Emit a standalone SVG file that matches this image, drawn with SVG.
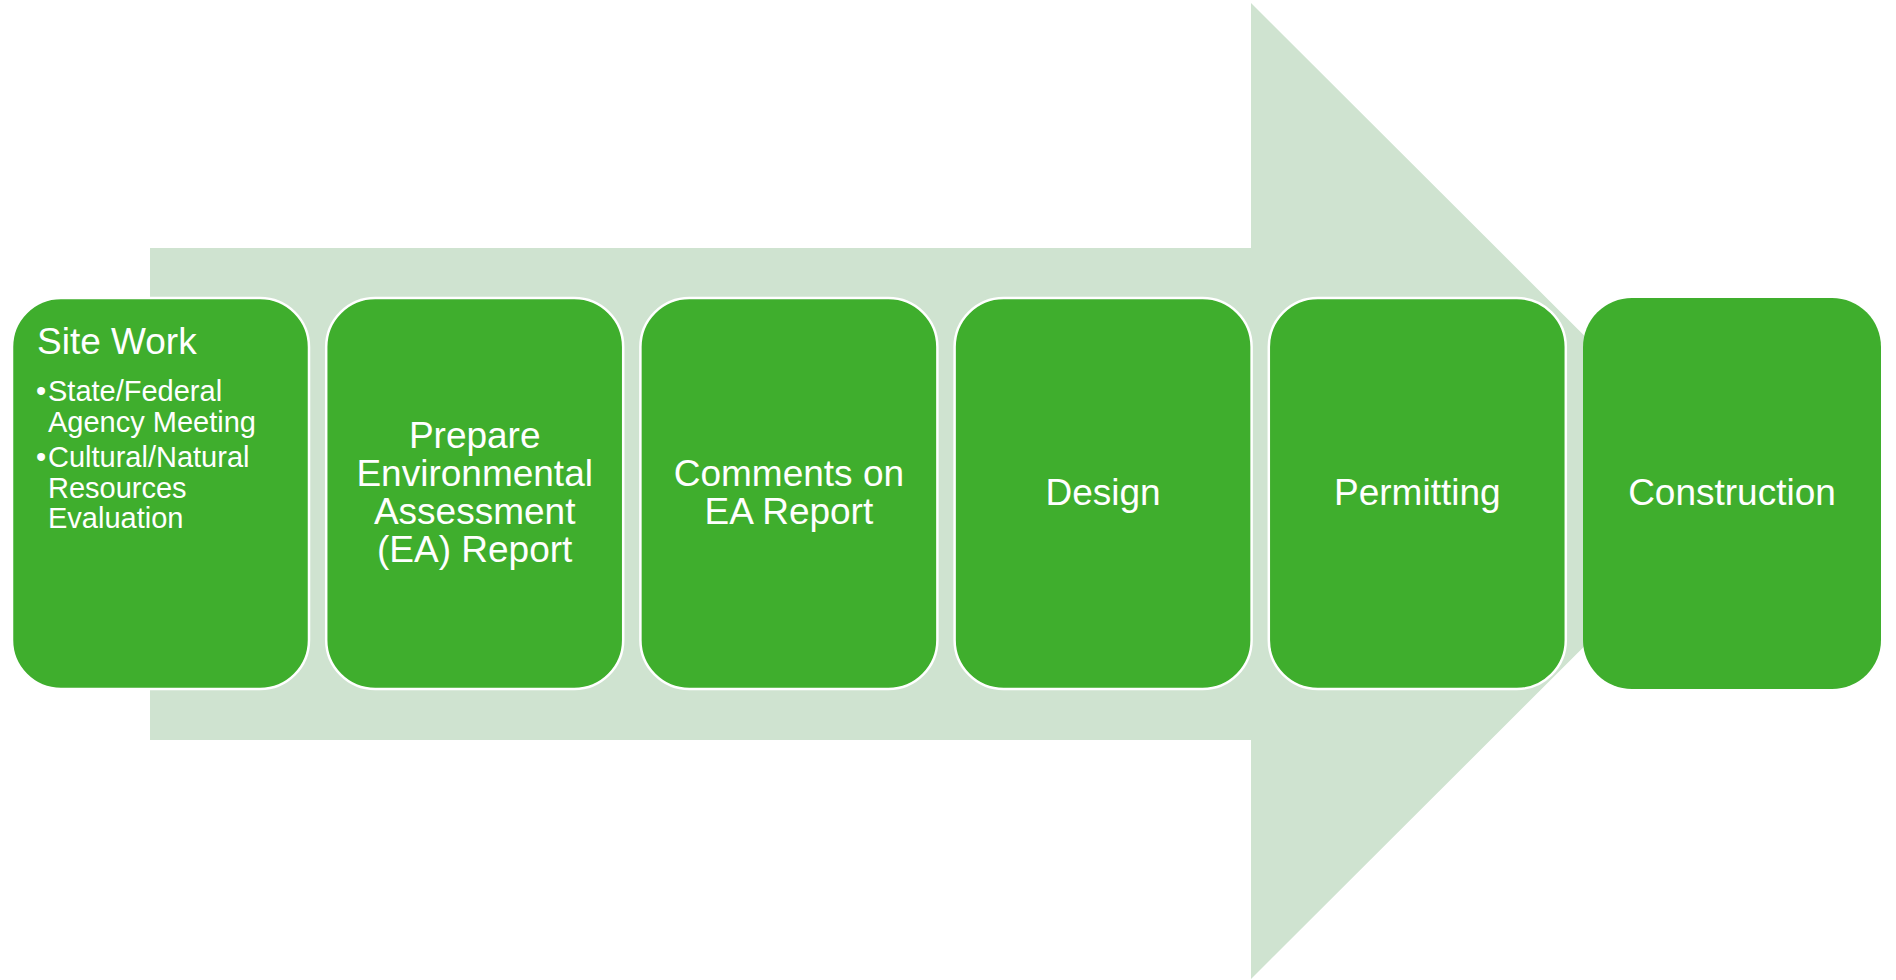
<svg xmlns="http://www.w3.org/2000/svg" width="1896" height="980" viewBox="0 0 1896 980">
<style>
.box{fill:#3FAE2D;stroke:#FFFFFF;stroke-width:2.5}
.t{font-family:"Liberation Sans",Arial,sans-serif;fill:#FFFFFF;font-size:37px;text-anchor:middle}
.b{font-family:"Liberation Sans",Arial,sans-serif;fill:#FFFFFF;font-size:29px}
</style>
<rect width="1896" height="980" fill="#FFFFFF"/>
<g id="connectors">
<polygon points="150,248 1251,248 1251,3 1740,491 1251,979 1251,740 150,740" fill="#CFE3D0"/>
</g>
<g id="node1">
<rect class="box" x="12" y="298" width="297" height="391" rx="49" ry="49"/>
<text class="t" x="37" y="354" text-anchor="start" style="text-anchor:start">Site Work</text>
<text class="b" x="36" y="401">•</text>
<text class="b" x="48" y="401">State/Federal</text>
<text class="b" x="48" y="432">Agency Meeting</text>
<text class="b" x="36" y="467">•</text>
<text class="b" x="48" y="467">Cultural/Natural</text>
<text class="b" x="48" y="498">Resources</text>
<text class="b" x="48" y="528">Evaluation</text>
</g>
<g id="node2">
<rect class="box" x="326.2" y="298" width="297" height="391" rx="49" ry="49"/>
<text class="t" x="474.7" y="448">Prepare</text>
<text class="t" x="474.7" y="486">Environmental</text>
<text class="t" x="474.7" y="524">Assessment</text>
<text class="t" x="474.7" y="562">(EA) Report</text>
</g>
<g id="node3">
<rect class="box" x="640.4" y="298" width="297" height="391" rx="49" ry="49"/>
<text class="t" x="788.9" y="486">Comments on</text>
<text class="t" x="788.9" y="524">EA Report</text>
</g>
<g id="node4">
<rect class="box" x="954.6" y="298" width="297" height="391" rx="49" ry="49"/>
<text class="t" x="1103.1" y="505">Design</text>
</g>
<g id="node5">
<rect class="box" x="1268.8" y="298" width="297" height="391" rx="49" ry="49"/>
<text class="t" x="1417.3" y="505">Permitting</text>
</g>
<g id="node6">
<rect x="1583" y="298" width="298" height="391" rx="49" ry="49" fill="#3FAE2D"/>
<text class="t" x="1732" y="505">Construction</text>
</g>
</svg>
